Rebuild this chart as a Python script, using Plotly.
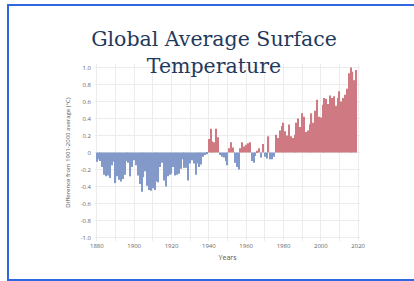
import plotly.graph_objects as go

years = list(range(1880, 2020))
anomaly = [
    -0.11, -0.08, -0.10, -0.17, -0.26, -0.28, -0.27, -0.30, -0.15, -0.11,
    -0.36, -0.28, -0.32, -0.34, -0.31, -0.26, -0.10, -0.12, -0.28, -0.17,
    -0.09, -0.15, -0.27, -0.37, -0.46, -0.29, -0.22, -0.39, -0.44, -0.45,
    -0.42, -0.44, -0.34, -0.35, -0.17, -0.12, -0.33, -0.40, -0.28, -0.26,
    -0.25, -0.17, -0.27, -0.26, -0.25, -0.19, -0.08, -0.18, -0.18, -0.33,
    -0.13, -0.09, -0.13, -0.26, -0.13, -0.17, -0.14, -0.05, -0.03, -0.02,
    0.16, 0.28, 0.13, 0.12, 0.28, 0.18, -0.03, -0.05, -0.06, -0.10,
    -0.15, 0.05, 0.12, 0.06, -0.12, -0.17, -0.20, 0.05, 0.12, 0.07,
    0.09, 0.11, 0.12, -0.10, -0.12, -0.04, 0.02, 0.05, -0.06, 0.10,
    -0.05, -0.07, 0.19, -0.08, -0.08, -0.05, 0.21, 0.17, 0.26, 0.31,
    0.35, 0.25, 0.20, 0.33, 0.19, 0.17, 0.21, 0.35, 0.40, 0.30,
    0.46, 0.42, 0.24, 0.26, 0.33, 0.46, 0.35, 0.49, 0.62, 0.42,
    0.41, 0.56, 0.64, 0.63, 0.57, 0.67, 0.64, 0.66, 0.55, 0.64,
    0.72, 0.60, 0.64, 0.68, 0.75, 0.93, 1.00, 0.95, 0.85, 0.97,
]
y_tick_vals = [1.0, 0.8, 0.6, 0.4, 0.2, 0, -0.2, -0.4, -0.6, -0.8, -1.0]
y_tick_text = ["1.0", "0.8", "0.6", "0.4", "0.2", "0", "-0.2", "-0.4", "-0.6", "-0.8", "-1.0"]
x_tick_vals = [1880, 1900, 1920, 1940, 1960, 1980, 2000, 2020]

POS = "#cf7a82"
NEG = "#8299ca"
colors = [POS if v >= 0 else NEG for v in anomaly]

fig = go.Figure(go.Bar(
    x=years, y=anomaly,
    marker=dict(color=colors, line=dict(width=0)),
    hoverinfo="x+y",
))

W, H = 414, 281
ml, mr, mt, mb = 95, 54, 64, 40
pw, ph = W - ml - mr, H - mt - mb

def px_x(p):
    return (p - ml) / pw

def px_y(p):
    return (H - mb - p) / ph

fig.update_layout(
    width=W, height=H,
    margin=dict(l=ml, r=mr, t=mt, b=mb),
    paper_bgcolor="white", plot_bgcolor="white",
    bargap=0.35,
    showlegend=False,
    title=dict(
        text="Global Average Surface<br>Temperature",
        x=214 / W, xanchor="center",
        y=1 - 46 / H, yanchor="top", yref="container",
        font=dict(family="DejaVu Serif", size=20.5, color="#1f3a5c"),
    ),
    xaxis=dict(
        range=[1879, 2021],
        tickvals=x_tick_vals,
        ticktext=[str(v) for v in x_tick_vals],
        tickfont=dict(family="Open Sans", size=6, color="#666"),
        showgrid=True, gridcolor="#ececec", gridwidth=1,
        minor=dict(dtick=10, tick0=1880, showgrid=True, gridcolor="#ececec"),
        zeroline=False, showline=False, ticks="",
        title=dict(text="Years", font=dict(family="Open Sans", size=7, color="#555"), standoff=6),
    ),
    yaxis=dict(
        range=[-1.04, 1.04],
        tickvals=y_tick_vals, ticktext=y_tick_text,
        tickfont=dict(family="Open Sans", size=6, color="#666"),
        showgrid=True, gridcolor="#ececec", gridwidth=1,
        zeroline=False, showline=False, ticks="",
        ticklabelstandoff=3,
        title=dict(text="Difference from 1901-2000 average (°C)",
                   font=dict(family="Open Sans", size=6, color="#555"), standoff=9),
    ),
    shapes=[dict(
        type="rect", xref="paper", yref="paper",
        x0=px_x(8), x1=px_x(425), y0=px_y(280), y1=px_y(5),
        line=dict(color="#2f67e3", width=2), fillcolor="rgba(0,0,0,0)",
        layer="above",
    )],
)

fig.write_html(
    "out.html",
    config={"displayModeBar": False},
    post_script="document.body.style.margin='0';document.body.style.padding='0';",
)
